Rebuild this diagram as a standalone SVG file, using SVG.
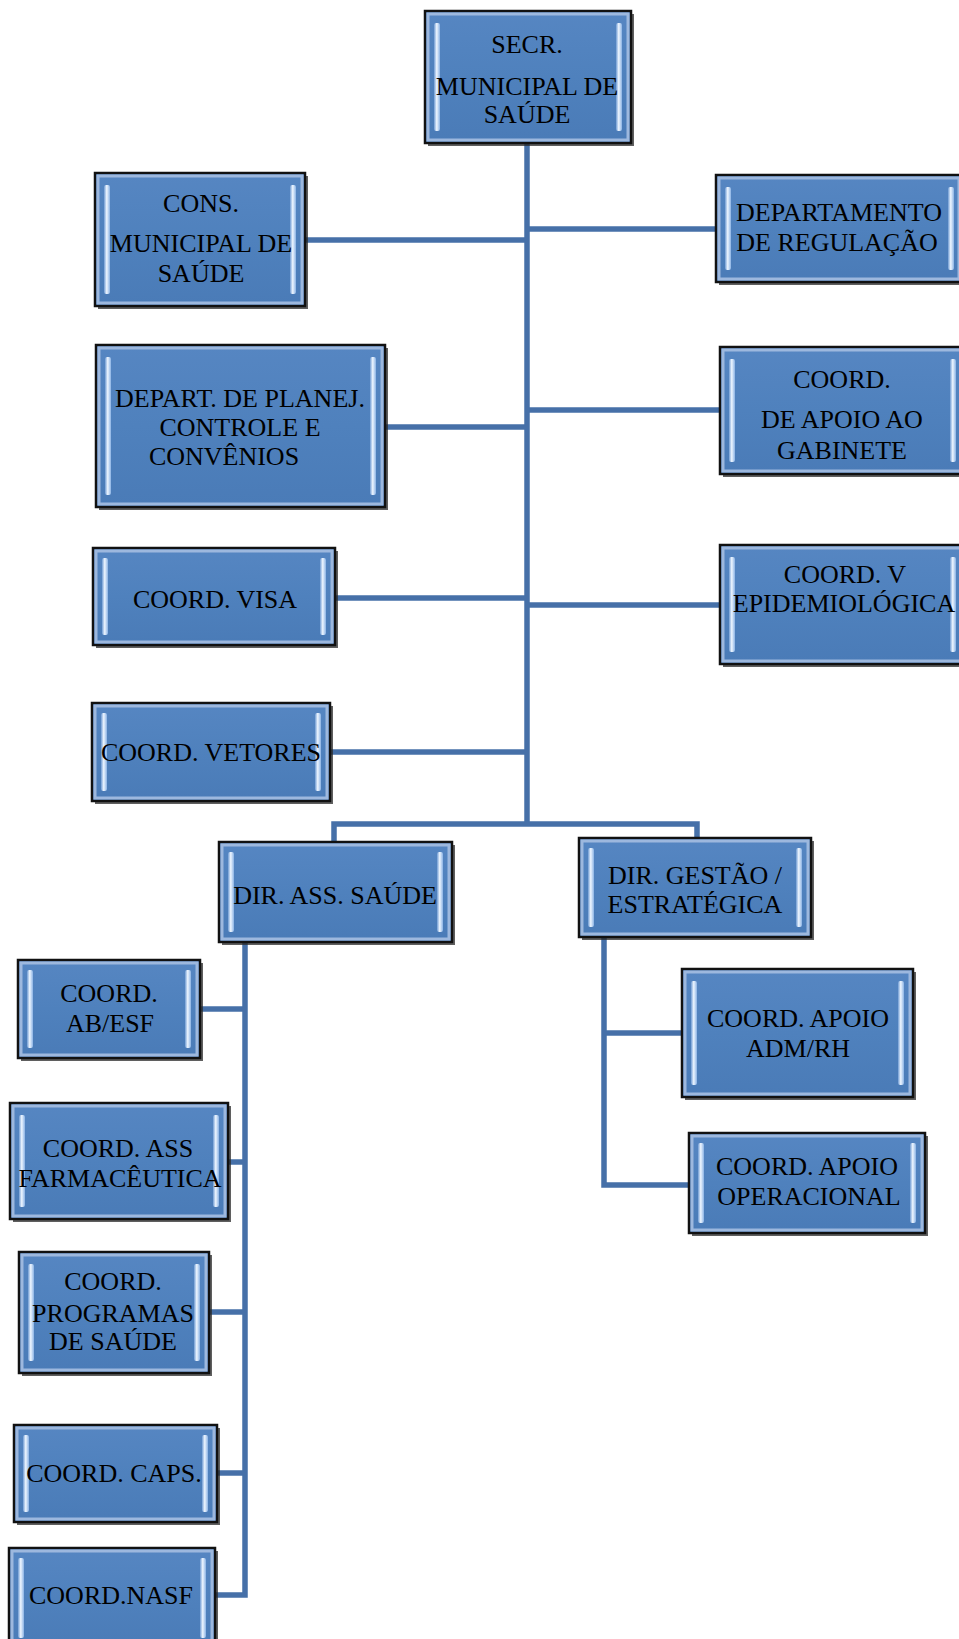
<svg xmlns="http://www.w3.org/2000/svg" width="959" height="1639" viewBox="0 0 959 1639">
<defs>
<linearGradient id="hl" x1="0" y1="0" x2="1" y2="0">
<stop offset="0" stop-color="#6f9bd3"/>
<stop offset="0.45" stop-color="#eef6ff"/>
<stop offset="1" stop-color="#8ab2e4"/>
</linearGradient>
<linearGradient id="fill" x1="0" y1="0" x2="0" y2="1">
<stop offset="0" stop-color="#5686c2"/>
<stop offset="0.5" stop-color="#4f81bd"/>
<stop offset="1" stop-color="#4a7bb7"/>
</linearGradient>
</defs>
<style>
.sh{fill:#2a2a2a;opacity:0.75}
.box{fill:url(#fill);stroke:#111;stroke-width:2.5}
.fr{fill:none;stroke:#9db8de;stroke-width:3}
.hl{fill:url(#hl)}
text{font-family:"Liberation Serif","Times New Roman",serif;font-size:26px;fill:#000;text-anchor:middle}
.c{stroke:#4670a8;stroke-width:5.5;fill:none;stroke-linejoin:miter}
</style>
<rect width="959" height="1639" fill="#fff"/>
<g id="connectors">
<path class="c" d="M527 143 V824"/>
<path class="c" d="M305 240 H527"/>
<path class="c" d="M527 229 H716"/>
<path class="c" d="M385 427 H527"/>
<path class="c" d="M527 410 H720"/>
<path class="c" d="M335 598 H527"/>
<path class="c" d="M527 605 H720"/>
<path class="c" d="M330 752 H527"/>
<path class="c" d="M334 842 V824 H697 V838"/>
<path class="c" d="M245 942 V1595 H215"/>
<path class="c" d="M200 1009 H245"/>
<path class="c" d="M228 1162 H245"/>
<path class="c" d="M209 1312 H245"/>
<path class="c" d="M217 1473 H245"/>
<path class="c" d="M604 937 V1185 H689"/>
<path class="c" d="M604 1033 H682"/>
</g>
<g id="secr">
<rect class="sh" x="428" y="14" width="206" height="132"/>
<rect class="box" x="425" y="11" width="206" height="132"/>
<rect class="fr" x="428" y="14" width="200" height="126"/>
<rect class="hl" x="434" y="23" width="6" height="108" rx="2"/>
<rect class="hl" x="616" y="23" width="6" height="108" rx="2"/>
<text x="527" y="53">SECR.</text>
<text x="527" y="95">MUNICIPAL DE</text>
<text x="527" y="123">SAÚDE</text>
</g>
<g id="cons">
<rect class="sh" x="98" y="176" width="210" height="133"/>
<rect class="box" x="95" y="173" width="210" height="133"/>
<rect class="fr" x="98" y="176" width="204" height="127"/>
<rect class="hl" x="104" y="185" width="6" height="109" rx="2"/>
<rect class="hl" x="290" y="185" width="6" height="109" rx="2"/>
<text x="201" y="212">CONS.</text>
<text x="201" y="252">MUNICIPAL DE</text>
<text x="201" y="282">SAÚDE</text>
</g>
<g id="depreg">
<rect class="sh" x="719" y="178" width="246" height="107"/>
<rect class="box" x="716" y="175" width="246" height="107"/>
<rect class="fr" x="719" y="178" width="240" height="101"/>
<rect class="hl" x="725" y="187" width="6" height="83" rx="2"/>
<rect class="hl" x="948" y="187" width="6" height="83" rx="2"/>
<text x="839" y="221">DEPARTAMENTO</text>
<text x="837" y="251">DE REGULAÇÃO</text>
</g>
<g id="planej">
<rect class="sh" x="99" y="348" width="289" height="162"/>
<rect class="box" x="96" y="345" width="289" height="162"/>
<rect class="fr" x="99" y="348" width="283" height="156"/>
<rect class="hl" x="105" y="357" width="6" height="138" rx="2"/>
<rect class="hl" x="370" y="357" width="6" height="138" rx="2"/>
<text x="240" y="407">DEPART. DE PLANEJ.</text>
<text x="240" y="436">CONTROLE E</text>
<text x="224" y="465">CONVÊNIOS</text>
</g>
<g id="gabinete">
<rect class="sh" x="723" y="350" width="245" height="127"/>
<rect class="box" x="720" y="347" width="245" height="127"/>
<rect class="fr" x="723" y="350" width="239" height="121"/>
<rect class="hl" x="729" y="359" width="6" height="103" rx="2"/>
<rect class="hl" x="950" y="359" width="6" height="103" rx="2"/>
<text x="842" y="388">COORD.</text>
<text x="842" y="428">DE APOIO AO</text>
<text x="842" y="459">GABINETE</text>
</g>
<g id="visa">
<rect class="sh" x="96" y="551" width="242" height="97"/>
<rect class="box" x="93" y="548" width="242" height="97"/>
<rect class="fr" x="96" y="551" width="236" height="91"/>
<rect class="hl" x="102" y="558" width="6" height="77" rx="2"/>
<rect class="hl" x="320" y="558" width="6" height="77" rx="2"/>
<text x="215" y="608">COORD. VISA</text>
</g>
<g id="epidemio">
<rect class="sh" x="723" y="548" width="245" height="119"/>
<rect class="box" x="720" y="545" width="245" height="119"/>
<rect class="fr" x="723" y="548" width="239" height="113"/>
<rect class="hl" x="729" y="557" width="6" height="95" rx="2"/>
<rect class="hl" x="950" y="557" width="6" height="95" rx="2"/>
<text x="845" y="583">COORD. V</text>
<text x="844" y="612">EPIDEMIOLÓGICA</text>
</g>
<g id="vetores">
<rect class="sh" x="95" y="706" width="238" height="98"/>
<rect class="box" x="92" y="703" width="238" height="98"/>
<rect class="fr" x="95" y="706" width="232" height="92"/>
<rect class="hl" x="101" y="713" width="6" height="78" rx="2"/>
<rect class="hl" x="315" y="713" width="6" height="78" rx="2"/>
<text x="211" y="761">COORD. VETORES</text>
</g>
<g id="dirass">
<rect class="sh" x="222" y="845" width="233" height="100"/>
<rect class="box" x="219" y="842" width="233" height="100"/>
<rect class="fr" x="222" y="845" width="227" height="94"/>
<rect class="hl" x="228" y="852" width="6" height="80" rx="2"/>
<rect class="hl" x="437" y="852" width="6" height="80" rx="2"/>
<text x="335" y="904">DIR. ASS. SAÚDE</text>
</g>
<g id="dirgest">
<rect class="sh" x="582" y="841" width="232" height="99"/>
<rect class="box" x="579" y="838" width="232" height="99"/>
<rect class="fr" x="582" y="841" width="226" height="93"/>
<rect class="hl" x="588" y="848" width="6" height="79" rx="2"/>
<rect class="hl" x="796" y="848" width="6" height="79" rx="2"/>
<text x="695" y="884">DIR. GESTÃO /</text>
<text x="695" y="913">ESTRATÉGICA</text>
</g>
<g id="admrh">
<rect class="sh" x="685" y="972" width="231" height="128"/>
<rect class="box" x="682" y="969" width="231" height="128"/>
<rect class="fr" x="685" y="972" width="225" height="122"/>
<rect class="hl" x="691" y="981" width="6" height="104" rx="2"/>
<rect class="hl" x="898" y="981" width="6" height="104" rx="2"/>
<text x="798" y="1027">COORD. APOIO</text>
<text x="798" y="1057">ADM/RH</text>
</g>
<g id="operac">
<rect class="sh" x="692" y="1136" width="236" height="100"/>
<rect class="box" x="689" y="1133" width="236" height="100"/>
<rect class="fr" x="692" y="1136" width="230" height="94"/>
<rect class="hl" x="698" y="1143" width="6" height="80" rx="2"/>
<rect class="hl" x="910" y="1143" width="6" height="80" rx="2"/>
<text x="807" y="1175">COORD. APOIO</text>
<text x="809" y="1205">OPERACIONAL</text>
</g>
<g id="abesf">
<rect class="sh" x="21" y="963" width="182" height="98"/>
<rect class="box" x="18" y="960" width="182" height="98"/>
<rect class="fr" x="21" y="963" width="176" height="92"/>
<rect class="hl" x="27" y="970" width="6" height="78" rx="2"/>
<rect class="hl" x="185" y="970" width="6" height="78" rx="2"/>
<text x="109" y="1002">COORD.</text>
<text x="110" y="1032">AB/ESF</text>
</g>
<g id="farma">
<rect class="sh" x="13" y="1106" width="218" height="116"/>
<rect class="box" x="10" y="1103" width="218" height="116"/>
<rect class="fr" x="13" y="1106" width="212" height="110"/>
<rect class="hl" x="19" y="1115" width="6" height="92" rx="2"/>
<rect class="hl" x="213" y="1115" width="6" height="92" rx="2"/>
<text x="118" y="1157">COORD. ASS</text>
<text x="120" y="1187">FARMACÊUTICA</text>
</g>
<g id="programas">
<rect class="sh" x="22" y="1255" width="190" height="121"/>
<rect class="box" x="19" y="1252" width="190" height="121"/>
<rect class="fr" x="22" y="1255" width="184" height="115"/>
<rect class="hl" x="28" y="1264" width="6" height="97" rx="2"/>
<rect class="hl" x="194" y="1264" width="6" height="97" rx="2"/>
<text x="113" y="1290">COORD.</text>
<text x="113" y="1322">PROGRAMAS</text>
<text x="113" y="1350">DE SAÚDE</text>
</g>
<g id="caps">
<rect class="sh" x="17" y="1428" width="203" height="97"/>
<rect class="box" x="14" y="1425" width="203" height="97"/>
<rect class="fr" x="17" y="1428" width="197" height="91"/>
<rect class="hl" x="23" y="1435" width="6" height="77" rx="2"/>
<rect class="hl" x="202" y="1435" width="6" height="77" rx="2"/>
<text x="114" y="1482">COORD. CAPS.</text>
</g>
<g id="nasf">
<rect class="sh" x="12" y="1551" width="206" height="100"/>
<rect class="box" x="9" y="1548" width="206" height="100"/>
<rect class="fr" x="12" y="1551" width="200" height="94"/>
<rect class="hl" x="18" y="1558" width="6" height="80" rx="2"/>
<rect class="hl" x="200" y="1558" width="6" height="80" rx="2"/>
<text x="111" y="1604">COORD.NASF</text>
</g>
</svg>
